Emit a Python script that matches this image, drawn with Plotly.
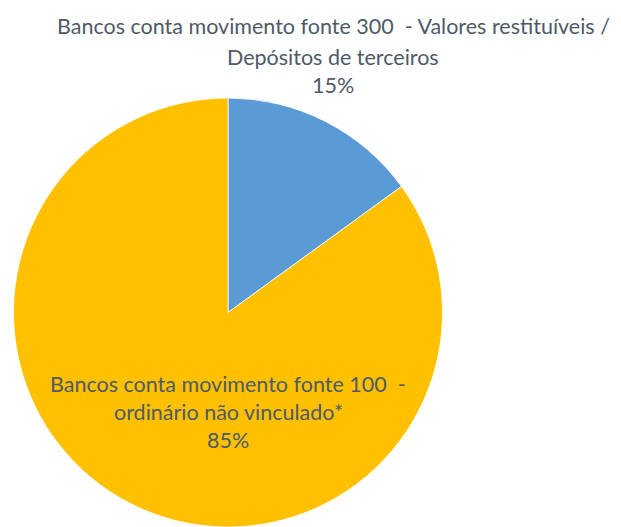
import plotly.graph_objects as go

labels = ["Bancos conta movimento fonte 300  - Valores restituíveis / Depósitos de terceiros",
          "Bancos conta movimento fonte 100  - ordinário não vinculado*"]
values = [15, 85]
colors = ["#5B9BD5", "#FFC000"]

label_lines = [
    ["Bancos conta movimento fonte 300  - Valores restituíveis /", "Depósitos de terceiros"],
    ["Bancos conta movimento fonte 100  -", "ordinário não vinculado*"],
]
# page-pixel positions of label centres (x, line y's)
label_pos = [(333, [26, 57, 85]), (228, [384, 412, 440])]

OFF = 8  # default body margin of the html page
W, H = 621 - OFF, 527 - OFF
# pie: centre (228, 313), radius 215 in page pixels
cx, cy, r = 228 - OFF, 313 - OFF, 215
fig = go.Figure(go.Pie(
    labels=labels, values=values, sort=False, direction="clockwise", rotation=0,
    marker=dict(colors=colors, line=dict(color="white", width=0.8)),
    textinfo="none", hoverinfo="label+percent", showlegend=False,
    domain=dict(x=[(cx - r) / W, (cx + r) / W], y=[0, (H - (cy - r)) / H]),
))

total = sum(values)
font = dict(family="Lato", size=21.5, color="#4E5A68")
for i, lines in enumerate(label_lines):
    lx, ys = label_pos[i]
    texts = lines + [f"{round(values[i] / total * 100)}%"]
    for t, y in zip(texts, ys):
        fig.add_annotation(x=(lx - OFF) / W, y=1 - (y - OFF) / H, xref="paper", yref="paper",
                           text=t, showarrow=False, font=font,
                           xanchor="center", yanchor="middle")

fig.update_layout(width=W, height=H, margin=dict(l=0, r=0, t=0, b=0),
                  paper_bgcolor="white", plot_bgcolor="white")
fig.write_html("out.html")
